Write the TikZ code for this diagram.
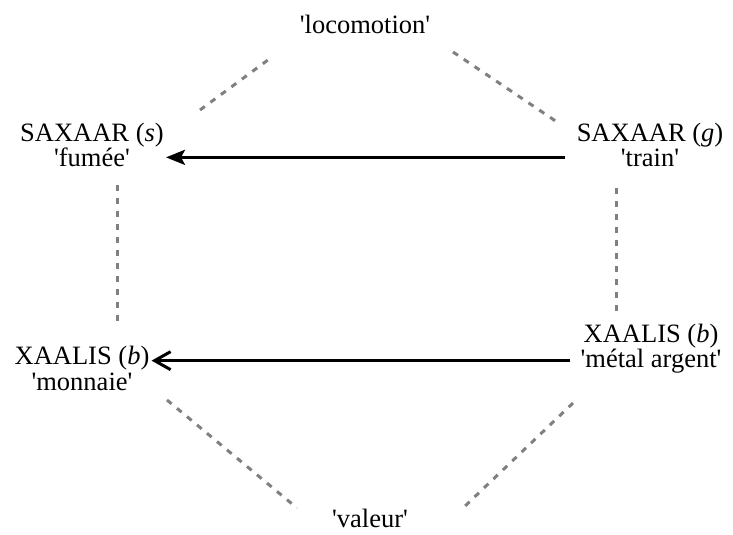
\documentclass[tikz,border=0pt]{standalone}
\usepackage{fontspec}
\setmainfont{Liberation Serif}
\usetikzlibrary{arrows.meta}
\newcommand{\gloss}[1]{\textquotesingle#1\textquotesingle}

\begin{document}
\begin{tikzpicture}[x=1pt,y=-1pt,
	every node/.style={font=\fontsize{26.5}{30}\selectfont,inner sep=2pt},
	word/.style={anchor=base},
	link/.style={draw=gray,line width=3pt,dash pattern=on 6pt off 7pt}]
	\useasboundingbox (0,0) rectangle (733,535);
	\node[word](v1) at (365,34){\gloss{locomotion}};
	\node[word](v2) at (92,141){SAXAAR (\textit{s})};
	\node[word](v3) at (92,166){\gloss{fumée}};
	\node[word](v4) at (650,141){SAXAAR (\textit{g})};
	\node[word](v5) at (650,166){\gloss{train}};
	\node[word](v6) at (82,364){XAALIS (\textit{b})};
	\node[word](v7) at (82,390){\gloss{monnaie}};
	\node[word](v8) at (651,342){XAALIS (\textit{b})};
	\node[word](v9) at (651,367){\gloss{métal argent}};
	\node[word](v10) at (370,527){\gloss{valeur}};
	% loose ends of the dashed links
	\coordinate (c1) at (200,110);
	\coordinate (c2) at (272,57);
	\coordinate (c3) at (453,52);
	\coordinate (c4) at (560,124);
	\coordinate (c5) at (117,185);
	\coordinate (c6) at (117,323);
	\coordinate (c7) at (616,188);
	\coordinate (c8) at (616,318);
	\coordinate (c9) at (167,400);
	\coordinate (c10) at (297,508);
	\coordinate (c11) at (573,403);
	\coordinate (c12) at (463,508);
	\path[link]
		(c1) edge (c2)
		(c3) edge (c4)
		(c5) edge (c6)
		(c7) edge (c8)
		(c9) edge (c10)
		(c11) edge (c12);
	\path[line width=3pt]
		([xshift=-10pt]v4.west |- v5) edge[-{Stealth[length=19pt,width=15pt,inset=4pt]}] (v2.east |- v5)
		([xshift=-8pt]v9.west) edge[-{Straight Barb[length=16pt,width=18pt]}] (v6.east |- v9);
\end{tikzpicture}
\end{document}
